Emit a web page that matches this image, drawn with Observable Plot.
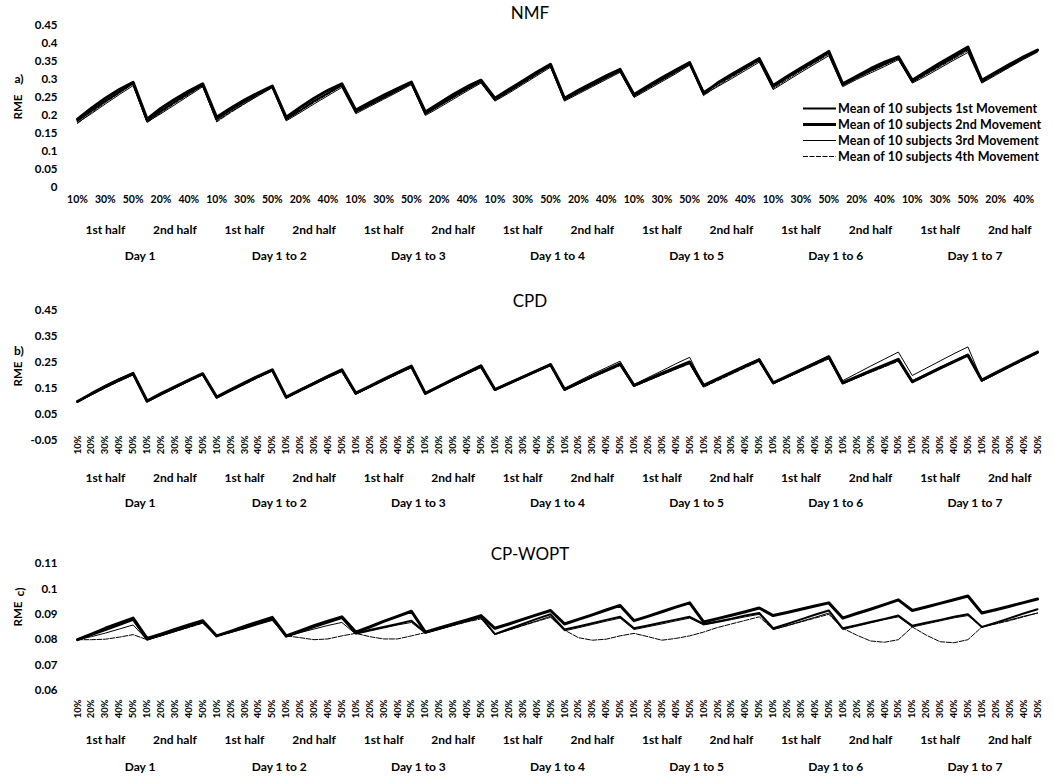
<!DOCTYPE html>
<html><head><meta charset="utf-8">
<script src="https://cdn.jsdelivr.net/npm/d3@7"></script>
<script src="https://cdn.jsdelivr.net/npm/@observablehq/plot@0.6"></script>
<style>
body{margin:0;background:#fff;font-family:Lato,"Open Sans",sans-serif;}
#fig{position:relative;width:1053px;height:781px;overflow:hidden;background:#fff;}
.abs{position:absolute;white-space:nowrap;color:#000;}
.title{font-size:17px;transform:translate(-50%,-50%);}
.ylab{font-size:11.5px;font-weight:700;transform:translate(-50%,-50%) rotate(-90deg);}
.tag{font-size:12px;font-weight:700;transform:translate(-50%,-50%);}
.leg{font-size:12.5px;font-weight:700;display:flex;align-items:center;transform:translateY(-50%);letter-spacing:0.1px;}
.leg svg{margin-right:2px;}
svg.panel{position:absolute;left:0;}
</style></head>
<body><div id="fig"></div>
<script>
const days = ["Day 1","Day 1 to 2","Day 1 to 3","Day 1 to 4","Day 1 to 5","Day 1 to 6","Day 1 to 7"];
const halves = ["1st half","2nd half"];
const pcts = ["10%","20%","30%","40%","50%"];
const seriesNames = ["Mean of 10 subjects 1st Movement","Mean of 10 subjects 2nd Movement","Mean of 10 subjects 3rd Movement","Mean of 10 subjects 4th Movement"];

const nmfTicks = [0,0.05,0.1,0.15,0.2,0.25,0.3,0.35,0.4,0.45];
const cpdTicks = [-0.05,0.05,0.15,0.25,0.35,0.45];
const cpwTicks = [0.06,0.07,0.08,0.09,0.1,0.11];

const nmf1 = [.185,.213,.240,.265,.290, .185,.212,.238,.262,.285,
 .190,.215,.238,.260,.280, .190,.214,.240,.262,.285,
 .210,.230,.250,.270,.290, .205,.228,.252,.274,.295,
 .245,.268,.292,.316,.340, .245,.265,.285,.305,.325,
 .255,.278,.300,.322,.345, .265,.288,.310,.332,.355,
 .280,.305,.328,.350,.375, .285,.305,.325,.343,.360,
 .295,.318,.340,.362,.385, .295,.317,.338,.360,.380];
const nmf2 = [.190,.220,.248,.272,.292, .190,.220,.245,.268,.288,
 .195,.220,.243,.263,.282, .195,.222,.248,.270,.288,
 .215,.236,.256,.275,.293, .210,.234,.258,.280,.298,
 .248,.272,.296,.320,.342, .248,.270,.290,.310,.328,
 .258,.282,.305,.326,.347, .262,.290,.314,.336,.358,
 .283,.308,.332,.355,.378, .288,.309,.330,.348,.363,
 .298,.322,.346,.368,.390, .298,.320,.342,.363,.382];
const nmf3 = [.180,.205,.232,.258,.283, .182,.205,.230,.255,.280,
 .185,.210,.233,.255,.277, .185,.208,.232,.255,.278,
 .205,.225,.245,.265,.286, .200,.222,.245,.268,.290,
 .240,.262,.286,.310,.334, .240,.260,.280,.300,.320,
 .250,.272,.294,.316,.340, .258,.280,.302,.325,.348,
 .272,.296,.320,.343,.366, .280,.300,.318,.336,.355,
 .290,.310,.332,.354,.375, .290,.312,.334,.356,.376];
const nmf4 = [.178,.208,.236,.262,.288, .180,.208,.234,.258,.283,
 .182,.208,.232,.256,.279, .188,.212,.236,.259,.282,
 .208,.228,.248,.268,.288, .203,.226,.249,.271,.293,
 .242,.265,.289,.313,.337, .243,.263,.283,.303,.323,
 .252,.275,.297,.319,.342, .255,.282,.306,.329,.352,
 .275,.300,.324,.347,.370, .283,.303,.322,.340,.358,
 .292,.314,.336,.358,.380, .292,.315,.336,.358,.378];

const cpd1 = [.100,.128,.155,.180,.205, .100,.127,.153,.180,.205,
 .115,.142,.168,.195,.220, .115,.142,.168,.194,.218,
 .130,.156,.182,.208,.232, .130,.157,.183,.209,.234,
 .145,.169,.193,.217,.240, .145,.170,.195,.220,.243,
 .160,.183,.205,.228,.250, .160,.185,.210,.235,.258,
 .170,.195,.220,.245,.270, .170,.193,.216,.238,.260,
 .178,.204,.230,.255,.280, .180,.207,.235,.262,.288];
const cpd2 = [.100,.130,.158,.184,.208, .102,.130,.156,.182,.207,
 .117,.145,.172,.198,.222, .117,.144,.170,.197,.222,
 .132,.158,.185,.211,.236, .131,.158,.185,.211,.237,
 .146,.170,.194,.218,.242, .147,.172,.197,.221,.245,
 .162,.185,.208,.230,.252, .162,.187,.212,.237,.260,
 .172,.197,.222,.247,.272, .172,.195,.218,.240,.262,
 .176,.202,.228,.253,.278, .182,.210,.237,.264,.290];
const cpd3 = [.100,.132,.162,.188,.210, .100,.128,.155,.182,.206,
 .115,.144,.170,.197,.222, .118,.147,.174,.200,.224,
 .133,.160,.187,.213,.238, .132,.160,.187,.214,.240,
 .148,.173,.197,.221,.245, .150,.178,.205,.230,.255,
 .165,.192,.218,.245,.270, .162,.188,.214,.240,.265,
 .172,.198,.224,.250,.276, .180,.208,.236,.263,.290,
 .200,.228,.256,.284,.310, .182,.210,.238,.265,.292];
const cpd4 = [.098,.125,.152,.178,.202, .098,.125,.151,.177,.202,
 .113,.140,.166,.192,.217, .113,.140,.166,.191,.215,
 .128,.154,.180,.205,.230, .128,.155,.181,.206,.230,
 .143,.167,.191,.215,.238, .143,.168,.192,.215,.238,
 .158,.180,.202,.224,.245, .155,.180,.205,.230,.254,
 .168,.192,.216,.240,.264, .168,.190,.212,.233,.255,
 .172,.198,.225,.252,.278, .178,.205,.232,.258,.285];

const cpw1 = [.0800,.0818,.0838,.0858,.0878, .0800,.0818,.0836,.0853,.0870,
 .0815,.0830,.0847,.0865,.0882, .0812,.0830,.0850,.0868,.0885,
 .0825,.0838,.0850,.0862,.0875, .0828,.0844,.0860,.0876,.0890,
 .0822,.0842,.0862,.0882,.0900, .0840,.0852,.0865,.0878,.0890,
 .0845,.0856,.0868,.0879,.0890, .0862,.0872,.0883,.0895,.0905,
 .0845,.0862,.0880,.0898,.0915, .0845,.0857,.0870,.0882,.0895,
 .0855,.0867,.0878,.0890,.0900, .0850,.0867,.0885,.0903,.0920];
const cpw2 = [.0800,.0822,.0845,.0865,.0885, .0805,.0822,.0840,.0858,.0875,
 .0815,.0833,.0852,.0870,.0888, .0815,.0835,.0855,.0873,.0890,
 .0830,.0850,.0872,.0892,.0912, .0830,.0846,.0862,.0878,.0895,
 .0845,.0862,.0880,.0898,.0915, .0862,.0880,.0898,.0917,.0935,
 .0875,.0892,.0910,.0928,.0945, .0870,.0883,.0896,.0910,.0925,
 .0895,.0907,.0920,.0933,.0945, .0885,.0903,.0920,.0938,.0957,
 .0915,.0929,.0943,.0957,.0972, .0905,.0918,.0932,.0946,.0960];
const cpw3 = [.0800,.0812,.0826,.0842,.0858, .0800,.0815,.0832,.0850,.0866,
 .0815,.0828,.0843,.0860,.0876, .0815,.0828,.0842,.0856,.0868,
 .0822,.0834,.0846,.0858,.0868, .0825,.0840,.0856,.0872,.0886,
 .0820,.0838,.0856,.0874,.0892, .0835,.0847,.0860,.0873,.0885,
 .0840,.0851,.0862,.0874,.0885, .0858,.0868,.0879,.0890,.0900,
 .0840,.0855,.0872,.0888,.0905, .0840,.0853,.0866,.0879,.0890,
 .0850,.0862,.0874,.0886,.0895, .0850,.0864,.0878,.0892,.0905];
const cpw4 = [.0800,.0800,.0802,.0810,.0820, .0800,.0815,.0832,.0848,.0865,
 .0815,.0830,.0845,.0862,.0878, .0815,.0808,.0800,.0803,.0815,
 .0825,.0812,.0803,.0803,.0815, .0828,.0842,.0856,.0870,.0882,
 .0822,.0838,.0855,.0872,.0888, .0838,.0808,.0798,.0802,.0815,
 .0825,.0812,.0798,.0805,.0815, .0830,.0848,.0862,.0876,.0890,
 .0840,.0855,.0870,.0885,.0900, .0845,.0818,.0795,.0790,.0800,
 .0850,.0818,.0792,.0788,.0800, .0850,.0862,.0875,.0890,.0905];

const seriesStyles = [
  {strokeWidth: 2},
  {strokeWidth: 3},
  {strokeWidth: 1},
  {strokeWidth: 1, strokeDasharray: "5,1.5"}
];

const panels = [
  {tag:"a)", title:"NMF", top:0, height:262, mt:25, mb:75, domain:[0,0.45], yTicks:nmfTicks,
   rotate:false, tickPad:8, halfDy:43, dayDy:69, series:[nmf1,nmf2,nmf3,nmf4], titleY:12, tagY:78, rmeY:107, legend:true, tagRot:false},
  {tag:"b)", title:"CPD", top:262, height:250, mt:48, mb:72, domain:[-0.05,0.45], yTicks:cpdTicks,
   rotate:true, tickPad:-5, halfDy:38, dayDy:63, series:[cpd1,cpd2,cpd3,cpd4], titleY:300, tagY:350, rmeY:374, legend:false, tagRot:false},
  {tag:"c)", title:"CP-WOPT", top:512, height:269, mt:51, mb:91, domain:[0.06,0.11], yTicks:cpwTicks,
   rotate:true, tickPad:9, halfDy:50, dayDy:77, series:[cpw1,cpw2,cpw3,cpw4], titleY:553, tagY:592, rmeY:614, legend:false, tagRot:true}
];

const fig = document.getElementById("fig");
const nPerDay = halves.length * pcts.length;
const halfLabels = days.flatMap((d, di) => halves.map((h, hi) => ({x: di*nPerDay + hi*pcts.length + (pcts.length-1)/2, text: h})));
const dayLabels = days.map((d, di) => ({x: di*nPerDay + (nPerDay-1)/2, text: d}));
const nPoints = days.length * nPerDay;

function addDiv(cls, text, left, top) {
  const el = document.createElement("div");
  el.className = "abs " + cls;
  el.textContent = text;
  el.style.left = left + "px";
  el.style.top = top + "px";
  fig.appendChild(el);
  return el;
}

for (const p of panels) {
  const marks = [];
  p.series.forEach((vals, s) => {
    const rows = vals.map((v, i) => ({i, v}));
    marks.push(Plot.line(rows, {x: "i", y: "v", stroke: "#000", strokeLinejoin: "round", ...seriesStyles[s]}));
  });
  marks.push(Plot.axisY({ticks: p.yTicks, label: null, tickSize: 0, tickPadding: 20, tickFormat: d => String(d), fontSize: 11.5, fontWeight: 700}));
  const xt = p.rotate ? d3.range(nPoints) : d3.range(0, nPoints, 2);
  marks.push(Plot.axisX({ticks: xt, label: null, tickSize: 0, tickPadding: p.tickPad, tickRotate: p.rotate ? -90 : 0,
    tickFormat: i => pcts[i % pcts.length], fontSize: p.rotate ? 9.5 : 10.5, fontWeight: 700}));
  marks.push(Plot.text(halfLabels, {x: "x", text: "text", frameAnchor: "bottom", dy: p.halfDy, fontSize: 12, fontWeight: 700, lineAnchor: "middle"}));
  marks.push(Plot.text(dayLabels, {x: "x", text: "text", frameAnchor: "bottom", dy: p.dayDy, fontSize: 12, fontWeight: 700, lineAnchor: "middle"}));
  const chart = Plot.plot({
    width: 1053, height: p.height,
    marginLeft: 77, marginRight: 16, marginTop: p.mt, marginBottom: p.mb,
    style: {fontFamily: "Lato, 'Open Sans', sans-serif", background: "transparent", color: "#000", overflow: "visible"},
    x: {type: "linear", domain: [0, nPoints - 1], axis: null},
    y: {domain: p.domain, axis: null},
    marks
  });
  chart.classList.add("panel");
  chart.style.top = p.top + "px";
  fig.appendChild(chart);

  addDiv("title", p.title, 530, p.titleY);
  const tg = addDiv("tag", p.tag, 19, p.tagY);
  if (p.tagRot) tg.style.transform = "translate(-50%,-50%) rotate(-90deg)";
  addDiv("ylab", "RME", 17, p.rmeY);

  if (p.legend) {
    const rowY = [108, 124, 140, 156];
    seriesNames.forEach((name, s) => {
      const el = document.createElement("div");
      el.className = "abs leg";
      el.style.left = "803px";
      el.style.top = rowY[s] + "px";
      const st = seriesStyles[s];
      el.innerHTML = `<svg width="33" height="6"><line x1="0" y1="3" x2="33" y2="3" stroke="#000" stroke-width="${st.strokeWidth}" ${st.strokeDasharray ? `stroke-dasharray="${st.strokeDasharray}"` : ""}/></svg>`;
      const sp = document.createElement("span");
      sp.textContent = name;
      el.appendChild(sp);
      fig.appendChild(el);
    });
  }
}
</script></body></html>
